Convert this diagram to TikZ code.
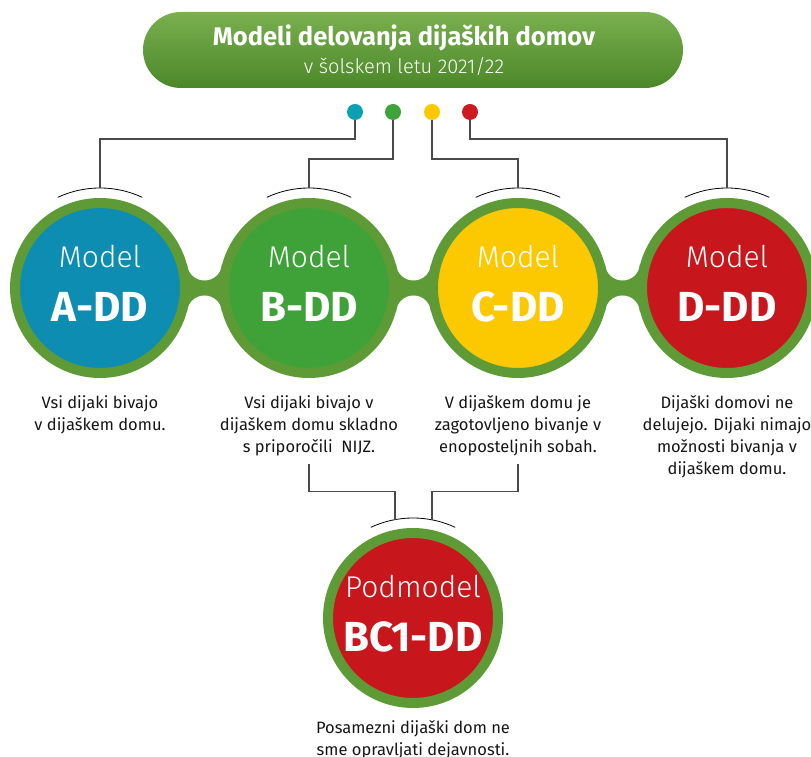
\documentclass[tikz,border=0pt]{standalone}
\usepackage{fontspec}
\setmainfont{Fira Sans}
\newfontfamily\firalight{Fira Sans Light}
\usetikzlibrary{positioning,backgrounds}

\definecolor{ring}{HTML}{5E9B37}
\definecolor{ringdark}{HTML}{3F7420}
\definecolor{bannerlight}{HTML}{7AB04F}
\definecolor{bannerdark}{HTML}{4B8729}
\definecolor{lensblue}{HTML}{0E8DB3}
\definecolor{lensgreen}{HTML}{3FA239}
\definecolor{lensyellow}{HTML}{FCC800}
\definecolor{lensred}{HTML}{C8161D}
\definecolor{dotblue}{HTML}{0BA0B4}
\definecolor{dotgreen}{HTML}{3EA43A}
\definecolor{dotyellow}{HTML}{FDC800}
\definecolor{dotred}{HTML}{CC1A20}
\definecolor{wiregray}{HTML}{4A4A4A}
\definecolor{textdark}{HTML}{161616}
\colorlet{lensmain}{lensblue}
\colorlet{lensedge}{lensblue}
\pgfdeclareradialshading[lensmain,lensedge]{lens}{\pgfpoint{0bp}{0bp}}{color(0bp)=(lensmain); color(36bp)=(lensmain); color(50bp)=(lensedge)}

\begin{document}
\begin{tikzpicture}[
    x=1pt, y=1pt,
    banner/.style={rectangle, rounded corners=38pt, minimum width=540pt, minimum height=76pt, top color=bannerlight, bottom color=bannerdark},
    titletext/.style={text=white, align=center, inner sep=0pt, font=\fontsize{20}{28}\selectfont},
    dotmark/.style={circle, fill=#1, minimum size=16pt, inner sep=0pt},
    lens/.style={circle, minimum size=170pt, inner sep=0pt, draw=ring, line width=10pt,
        /utils/exec={\colorlet{lensmain}{#1}\colorlet{lensedge}{#1!72!black}}, shading=lens,
        path picture={\draw[ringdark, line width=3pt] (path picture bounding box.center) circle (85pt);}},
    modeltop/.style={text=white, inner sep=0pt, anchor=base, font=\firalight\fontsize{30}{30}\selectfont},
    modelcode/.style={text=white, inner sep=0pt, anchor=base, font=\fontsize{42}{44}\selectfont\bfseries},
    desc/.style={align=center, inner sep=0pt, text=textdark, font=\fontsize{16.5}{22}\selectfont},
    hood/.style={draw=black, line width=0.8pt},
    wire/.style={draw=wiregray, line width=1.2pt}
]
    \useasboundingbox (0,0) rectangle (811,757);

    \node[banner] (title) at (413,707) {};
    \node[titletext] (ttext) at (404,707) {{\fontsize{25.5}{28}\selectfont\bfseries Modeli delovanja dijaških domov}\\{\firalight v šolskem letu 2021/22}};

    \node[dotmark=dotblue] (pa) at (355,645) {};
    \node[dotmark=dotgreen] (pb) at (393,645) {};
    \node[dotmark=dotyellow] (pc) at (432,645) {};
    \node[dotmark=dotred] (pd) at (470,645) {};

    \node[lens=lensblue] (a) at (100,469) {};
    \node[lens=lensgreen, right=29pt of a] (b) {};
    \node[lens=lensyellow, right=29pt of b] (c) {};
    \node[lens=lensred, right=29pt of c] (d) {};
    \node[lens=lensred] (bc) at (413,139) {};

    % links between the lenses
    \begin{scope}[on background layer]
        \fill[ring] ([yshift=-24pt]a.center) rectangle ([yshift=24pt]d.center);
        \foreach \n in {a,b,c} {
            \fill[white] ([shift={(104.5,24.9)}]\n.center) circle (17.4);
            \fill[white] ([shift={(104.5,-24.9)}]\n.center) circle (17.4);
        }
    \end{scope}

    \foreach \n/\code in {a/A-DD, b/B-DD, c/C-DD, d/D-DD} {
        \node[modeltop] (m\n) at ([yshift=20pt]\n.center) {Model};
        \node[modelcode] (k\n) at ([yshift=-34pt]\n.center) {\code};
    }
    \node[modeltop] (mbc) at ([yshift=20pt]bc.center) {Podmodel};
    \node[modelcode] (kbc) at ([yshift=-34pt]bc.center) {BC1-DD};

    \node[desc, below=17pt of a] (ta) {Vsi dijaki bivajo\\v dijaškem domu.};
    \node[desc, below=17pt of b] (tb) {Vsi dijaki bivajo v\\dijaškem domu skladno\\s priporočili\ \ NIJZ.};
    \node[desc, below=17pt of c] (tc) {V dijaškem domu je\\zagotovljeno bivanje v\\enoposteljnih sobah.};
    \node[desc, below=17pt of d] (td) {Dijaški domovi ne\\delujejo. Dijaki nimajo\\možnosti bivanja v\\dijaškem domu.};
    \node[desc, below=12pt of bc] (tbc) {Posamezni dijaški dom ne\\sme opravljati dejavnosti.};

    % arcs over the lenses
    \foreach \n in {a,b,c,d} \coordinate (h\n) at ([yshift=10pt]\n.north);
    \coordinate (hl) at ([shift={(-18pt,8pt)}]bc.north);
    \coordinate (hr) at ([shift={(19pt,8pt)}]bc.north);
    \foreach \n in {a,b,c,d,bc} \draw[hood] ([shift={(65:100)}]\n.center) arc (65:115:100);

    \draw[wire] (pa) -- ++(0,-27) -| (ha);
    \draw[wire] (pb) -- ++(0,-47) -| (hb);
    \draw[wire] (pc) -- ++(0,-47) -| (hc);
    \draw[wire] (pd) -- ++(0,-27) -| (hd);
    \draw[wire] (tb.south -| b) ++(0,-8) -- ++(0,-28) -| (hl);
    \draw[wire] (tc.south -| c) ++(0,-8) -- ++(0,-28) -| (hr);
\end{tikzpicture}
\end{document}
